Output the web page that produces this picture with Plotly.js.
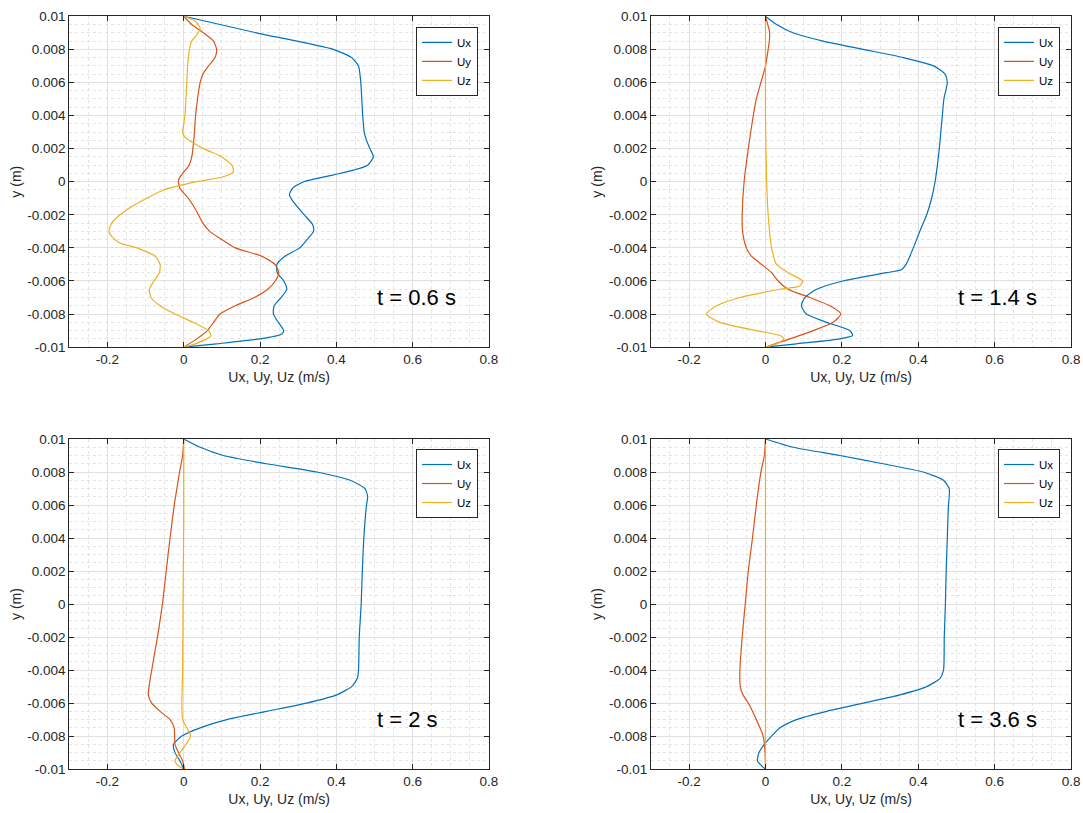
<!DOCTYPE html>
<html>
<head>
<meta charset="utf-8">
<script src="https://cdn.plot.ly/plotly-3.0.1.min.js"></script>
<style>html,body{margin:0;padding:0;background:#fff;}</style>
</head>
<body>
<div id="chart" style="width:1083px;height:813px;"></div>
<script>
// ---------- data ----------
const seriesNames = ["Ux", "Uy", "Uz"];
const timeLabels = ["t = 0.6 s", "t = 1.4 s", "t = 2 s", "t = 3.6 s"];
const xTickVals = [-0.2, 0, 0.2, 0.4, 0.6, 0.8];
const xTickText = ["-0.2", "0", "0.2", "0.4", "0.6", "0.8"];
const yTickVals = [-0.01, -0.008, -0.006, -0.004, -0.002, 0, 0.002, 0.004, 0.006, 0.008, 0.01];
const yTickText = ["-0.01", "-0.008", "-0.006", "-0.004", "-0.002", "0", "0.002", "0.004", "0.006", "0.008", "0.01"];

// t = 0.6 s
const ux06_y = [0.01,0.009,0.008,0.0075,0.007,0.006,0.004,0.003,0.0025,0.002,0.0015,0.001,0.0007,0.0004,0,-0.0004,-0.0008,-0.0013,-0.002,-0.0026,-0.003,-0.0035,-0.004,-0.0045,-0.005,-0.0055,-0.006,-0.0065,-0.007,-0.0075,-0.008,-0.0085,-0.009,-0.0092,-0.0095,-0.0098,-0.01];
const ux06   = [0,0.19,0.392,0.44,0.458,0.464,0.469,0.473,0.479,0.488,0.497,0.482,0.445,0.39,0.315,0.285,0.277,0.29,0.316,0.338,0.34,0.323,0.304,0.265,0.244,0.245,0.262,0.27,0.255,0.237,0.235,0.248,0.262,0.257,0.2,0.086,0];
const uy06_y = [0.01,0.0095,0.009,0.0085,0.008,0.0075,0.007,0.0065,0.006,0.005,0.004,0.003,0.002,0.0015,0.001,0.0005,0.0001,-0.0004,-0.001,-0.0018,-0.0025,-0.003,-0.0035,-0.004,-0.0045,-0.005,-0.0055,-0.006,-0.0065,-0.007,-0.0075,-0.008,-0.0085,-0.009,-0.0095,-0.01];
const uy06   = [0,0.021,0.052,0.078,0.086,0.082,0.065,0.05,0.043,0.036,0.031,0.028,0.024,0.021,0.014,-0.003,-0.014,-0.01,0.012,0.034,0.05,0.068,0.1,0.135,0.204,0.239,0.249,0.24,0.22,0.185,0.135,0.095,0.078,0.062,0.034,0];
const uz06_y = [0.01,0.0097,0.0093,0.009,0.0085,0.008,0.007,0.006,0.004,0.0033,0.003,0.0027,0.002,0.0015,0.001,0.0006,0.0003,0,-0.0005,-0.001,-0.0015,-0.002,-0.0025,-0.003,-0.0033,-0.0037,-0.004,-0.0045,-0.005,-0.0055,-0.006,-0.0065,-0.007,-0.0075,-0.008,-0.0085,-0.009,-0.0093,-0.0095,-0.0098,-0.01];
const uz06   = [0,0.03,0.043,0.038,0.021,0.015,0.01,0.008,0.003,-0.001,-0.003,0.003,0.052,0.1,0.126,0.13,0.104,0.034,-0.053,-0.097,-0.136,-0.167,-0.189,-0.196,-0.189,-0.167,-0.123,-0.075,-0.062,-0.064,-0.078,-0.09,-0.086,-0.062,-0.023,0.025,0.065,0.071,0.06,0.03,0];

// t = 1.4 s
const ux14_y = [0.01,0.0095,0.009,0.0085,0.008,0.0075,0.007,0.0065,0.006,0.005,0.004,0.003,0.002,0.001,0,-0.001,-0.002,-0.003,-0.004,-0.005,-0.0053,-0.0055,-0.006,-0.0065,-0.007,-0.0075,-0.008,-0.0085,-0.009,-0.0093,-0.0095,-0.0098,-0.01];
const ux14   = [0,0.029,0.072,0.151,0.256,0.361,0.44,0.47,0.476,0.467,0.463,0.459,0.455,0.45,0.444,0.435,0.422,0.404,0.387,0.368,0.357,0.317,0.203,0.134,0.103,0.094,0.107,0.16,0.221,0.228,0.195,0.081,0];
const uy14_y = [0.01,0.009,0.0085,0.008,0.007,0.006,0.005,0.004,0.002,0,-0.002,-0.003,-0.004,-0.0045,-0.005,-0.0055,-0.006,-0.0065,-0.007,-0.0075,-0.008,-0.0085,-0.009,-0.0095,-0.01];
const uy14   = [0,0.011,0.01,0.007,0,-0.012,-0.024,-0.032,-0.045,-0.056,-0.061,-0.06,-0.05,-0.037,-0.01,0.016,0.033,0.059,0.116,0.169,0.197,0.177,0.125,0.064,0];
const uz14_y = [0.01,0.008,0.004,0,-0.002,-0.004,-0.005,-0.0055,-0.006,-0.0063,-0.0065,-0.007,-0.0075,-0.008,-0.0085,-0.009,-0.0093,-0.0095,-0.0098,-0.01];
const uz14   = [0,0,0,0.003,0.007,0.016,0.029,0.059,0.097,0.09,0.038,-0.067,-0.128,-0.155,-0.12,-0.024,0.038,0.048,0.029,0];

// t = 2 s
const ux20_y = [0.01,0.0095,0.009,0.0085,0.008,0.0075,0.007,0.0065,0.006,0.004,0.002,0,-0.002,-0.004,-0.0045,-0.005,-0.0055,-0.006,-0.0065,-0.007,-0.0075,-0.008,-0.0085,-0.009,-0.0095,-0.01];
const ux20   = [0,0.043,0.104,0.217,0.348,0.436,0.475,0.482,0.479,0.472,0.468,0.465,0.46,0.458,0.455,0.44,0.401,0.322,0.217,0.113,0.043,-0.005,-0.027,-0.023,-0.01,0];
const uy20_y = [0.01,0.009,0.008,0.007,0.006,0.004,0.002,0,-0.002,-0.004,-0.005,-0.0055,-0.006,-0.0065,-0.007,-0.0075,-0.008,-0.0085,-0.009,-0.0095,-0.01];
const uy20   = [0,-0.003,-0.011,-0.018,-0.025,-0.036,-0.046,-0.056,-0.069,-0.084,-0.091,-0.093,-0.084,-0.062,-0.036,-0.025,-0.024,-0.023,-0.014,-0.003,0.002];
const uz20_y = [0.01,0.005,0,-0.004,-0.006,-0.007,-0.0075,-0.008,-0.0085,-0.009,-0.0095,-0.0098,-0.01];
const uz20   = [0,0,-0.002,-0.003,-0.005,-0.003,0.008,0.018,0.006,-0.01,-0.023,-0.014,0];

// t = 3.6 s
const ux36_y = [0.01,0.0095,0.009,0.0085,0.008,0.0075,0.007,0.0065,0.006,0.004,0.002,0,-0.002,-0.004,-0.0045,-0.005,-0.0055,-0.006,-0.0065,-0.007,-0.0075,-0.008,-0.0085,-0.009,-0.0095,-0.0098,-0.01];
const ux36   = [0,0.072,0.195,0.308,0.413,0.466,0.481,0.481,0.479,0.476,0.473,0.471,0.468,0.466,0.457,0.422,0.352,0.256,0.16,0.081,0.038,0.016,-0.003,-0.017,-0.021,-0.01,0];
const uy36_y = [0.01,0.009,0.008,0.006,0.004,0.002,0,-0.002,-0.004,-0.005,-0.0055,-0.006,-0.007,-0.008,-0.009,-0.01];
const uy36   = [0,-0.003,-0.012,-0.024,-0.034,-0.045,-0.053,-0.061,-0.067,-0.066,-0.059,-0.045,-0.024,-0.006,-0.001,0];
const uz36_y = [0.01,0,-0.01];
const uz36   = [0,0,0];

// ---------- build ----------
const colors = ["#0072BD", "#D95319", "#EDB120"];
const panels = [
  {xs:[ux06,uy06,uz06], ys:[ux06_y,uy06_y,uz06_y]},
  {xs:[ux14,uy14,uz14], ys:[ux14_y,uy14_y,uz14_y]},
  {xs:[ux20,uy20,uz20], ys:[ux20_y,uy20_y,uz20_y]},
  {xs:[ux36,uy36,uz36], ys:[ux36_y,uy36_y,uz36_y]}
];
const xDom = [[0.064,0.4515],[0.601,0.989],[0.064,0.4515],[0.601,0.989]];
const yDom = [[0.573,0.980],[0.573,0.980],[0.054,0.460],[0.054,0.460]];
const legPos = [[0.4414,0.967],[0.9788,0.967],[0.4414,0.4477],[0.9788,0.4477]];

const font = "Liberation Sans, Arial, Helvetica, sans-serif";
const traces = [];
const layout = {
  width:1083, height:813,
  margin:{l:0,r:0,t:0,b:0},
  paper_bgcolor:"#ffffff", plot_bgcolor:"#ffffff",
  font:{family:font, color:"#262626", size:13},
  annotations:[]
};

panels.forEach((p, i) => {
  const n = i === 0 ? "" : String(i+1);
  const legName = "legend" + n;
  for (let k = 0; k < 3; k++) {
    traces.push({
      type:"scatter", mode:"lines",
      x:p.xs[k], y:p.ys[k],
      name:seriesNames[k],
      xaxis:"x"+n, yaxis:"y"+n,
      legend:legName,
      line:{color:colors[k], width:1.2, shape:"spline", smoothing:0.6}
    });
  }
  const common = {
    showline:true, mirror:"ticks", linecolor:"#262626", linewidth:1,
    ticks:"inside", ticklen:5, tickcolor:"#262626", tickwidth:1,
    showgrid:true, gridcolor:"#e0e0e0", gridwidth:1,
    zeroline:false, tickfont:{family:font, size:13.5, color:"#262626"},
    tickmode:"array"
  };
  layout["xaxis"+n] = Object.assign({}, common, {
    domain:xDom[i], anchor:"y"+n, range:[-0.3,0.8],
    tickvals:xTickVals, ticktext:xTickText,
    minor:{dtick:0.05, tick0:0, showgrid:true, gridcolor:"#e4e4e4", griddash:"dot", gridwidth:1},
    title:{text:"Ux, Uy, Uz (m/s)", font:{family:font, size:14, color:"#262626"}, standoff:5}
  });
  layout["yaxis"+n] = Object.assign({}, common, {
    domain:yDom[i], anchor:"x"+n, range:[-0.01,0.01],
    tickvals:yTickVals, ticktext:yTickText,
    minor:{dtick:0.0005, tick0:0, showgrid:true, gridcolor:"#e4e4e4", griddash:"dot", gridwidth:1},
    title:{text:"y (m)", font:{family:font, size:14, color:"#262626"}, standoff:2}
  });
  layout[legName] = {
    x:legPos[i][0], y:legPos[i][1], xanchor:"right", yanchor:"top",
    xref:"paper", yref:"paper",
    bgcolor:"#ffffff", bordercolor:"#262626", borderwidth:1,
    font:{family:font, size:11.5, color:"#000000"},
    tracegroupgap:0, itemwidth:30
  };
  layout.annotations.push({
    xref:"x"+n, yref:"y"+n, x:0.5, y:-0.007,
    text:timeLabels[i], showarrow:false, xanchor:"left", yanchor:"middle",
    font:{family:font, size:22, color:"#000000"}
  });
});

Plotly.newPlot("chart", traces, layout, {displayModeBar:false, staticPlot:true});
</script>
</body>
</html>
